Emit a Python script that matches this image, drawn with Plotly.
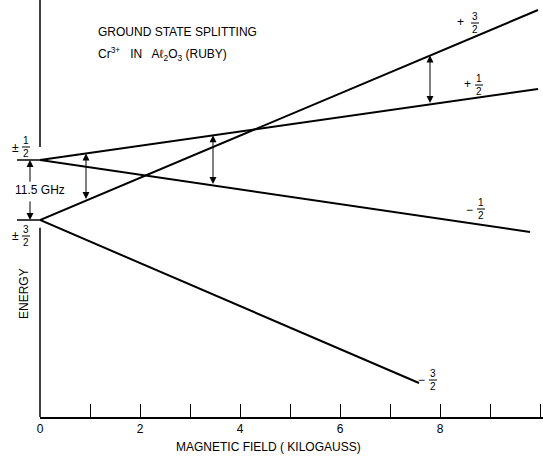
import plotly.graph_objects as go

# Zeeman levels of the Cr3+ ground state (energies in GHz, field in kilogauss)
level_names = ["+3/2", "+1/2", "-1/2", "-3/2"]
field_start = [0.0, 0.0, 0.0, 0.0]
field_end = [9.96, 9.96, 9.80, 7.58]
energy_start = [-5.75, 5.75, 5.75, -5.75]
energy_end = [34.5, 19.35, -8.05, -37.0]

# transitions marked with double-headed arrows: field, upper level, lower level
arrow_fields = [0.92, 3.46, 7.80]
arrow_upper = ["+1/2", "+1/2", "+3/2"]
arrow_lower = ["+3/2", "-1/2", "+1/2"]

zero_field_splitting = 11.5  # GHz
x_ticks = [0, 2, 4, 6, 8]

FONT = "Liberation Sans"
INK = "black"

W, H = 543, 459
ML, MB = 40, 42
PW, PH = W - ML, H - MB

X_RANGE = [0, PW / 50.0]
GHZ_PX = 60.0 / zero_field_splitting
Y_TOP = 5.75 + 160 / GHZ_PX
Y_BOT = 5.75 - (PH - 160) / GHZ_PX


def level_energy(name, b):
    i = level_names.index(name)
    t = (b - field_start[i]) / (field_end[i] - field_start[i])
    return energy_start[i] + t * (energy_end[i] - energy_start[i])


def paper(xp, yp):
    return (xp - ML) / PW, (PH - yp) / PH


def text_at(xp, yp, text, size=12, xanchor="center", **kw):
    x, y = paper(xp, yp)
    return dict(x=x, y=y, xref="paper", yref="paper", text=text,
                showarrow=False, xanchor=xanchor, yanchor="middle",
                font=dict(family=FONT, size=size, color=INK), **kw)


fig = go.Figure()

for i, name in enumerate(level_names):
    fig.add_trace(go.Scatter(
        x=[field_start[i], field_end[i]],
        y=[energy_start[i], energy_end[i]],
        mode="lines", line=dict(color=INK, width=2),
        name=name, showlegend=False, hoverinfo="skip",
    ))

annotations = []
shapes = []

# transition arrows between levels
for b, up, lo in zip(arrow_fields, arrow_upper, arrow_lower):
    annotations.append(dict(
        x=b, y=level_energy(up, b), xref="x", yref="y",
        ax=b, ay=level_energy(lo, b), axref="x", ayref="y",
        text="", showarrow=True, arrowside="end+start",
        arrowhead=2, startarrowhead=2, arrowsize=1.4, startarrowsize=1.4,
        arrowwidth=1, arrowcolor=INK, standoff=0, startstandoff=0,
    ))

e_half = energy_start[level_names.index("+1/2")]
e_three = energy_start[level_names.index("+3/2")]

# vertical axis, interrupted where the zero-field labels sit
shapes.append(dict(type="line", xref="paper", yref="y", x0=0, x1=0,
                   y0=Y_TOP, y1=e_half + 2.5, line=dict(color=INK, width=1.5)))
shapes.append(dict(type="line", xref="paper", yref="y", x0=0, x1=0,
                   y0=e_three - 1.5, y1=Y_BOT, line=dict(color=INK, width=1.5)))

# short stubs marking the zero-field levels
for e in (e_half, e_three):
    shapes.append(dict(type="line", xref="paper", yref="y",
                       x0=-23 / PW, x1=3 / PW, y0=e, y1=e,
                       line=dict(color=INK, width=1.5)))

# 11.5 GHz splitting arrow, split around its label
ax_gap = -10 / PW
mid = (e_half + e_three) / 2
annotations.append(dict(x=ax_gap, y=e_half, xref="paper", yref="y",
                        ax=0, ay=mid + 1.3, axref="pixel", ayref="y",
                        text="", showarrow=True, arrowhead=2, arrowsize=1.4,
                        arrowwidth=1, arrowcolor=INK, standoff=0))
annotations.append(dict(x=ax_gap, y=e_three, xref="paper", yref="y",
                        ax=0, ay=mid - 1.9, axref="pixel", ayref="y",
                        text="", showarrow=True, arrowhead=2, arrowsize=1.4,
                        arrowwidth=1, arrowcolor=INK, standoff=0))
annotations.append(text_at(40, 190, f"{zero_field_splitting} GHz",
                           bgcolor="white", borderpad=0))


def fraction_label(sign, num, den, sx, sy, fx, fy):
    annotations.append(text_at(sx, sy, sign, size=12))
    annotations.append(text_at(fx, fy, f"{num}<br>{den}", size=10))
    x, y = paper(fx, fy)
    shapes.append(dict(type="line", xref="paper", yref="paper",
                       x0=x - 4 / PW, x1=x + 4 / PW, y0=y, y1=y,
                       line=dict(color=INK, width=1)))


fraction_label("+", 3, 2, 460, 22, 475, 23)
fraction_label("+", 1, 2, 467, 84, 479, 85)
fraction_label("\u2212", 1, 2, 469, 210, 481, 209)
fraction_label("\u2212", 3, 2, 421, 380, 433, 380)
fraction_label("\u00b1", 1, 2, 15, 148, 26, 147)
fraction_label("\u00b1", 3, 2, 15, 236, 26, 236)

# heading
annotations.append(text_at(96, 32, "GROUND STATE SPLITTING", xanchor="left"))
annotations.append(text_at(
    96, 54,
    "Cr<sup>3+</sup>   IN   A\u2113<sub>2</sub>O<sub>3</sub> (RUBY)",
    xanchor="left"))

# axis titles
annotations.append(text_at(268, 447, "MAGNETIC FIELD ( KILOGAUSS)"))
annotations.append(text_at(24, 294, "ENERGY", textangle=-90))

fig.update_layout(
    width=W, height=H,
    margin=dict(l=ML, r=0, t=0, b=MB),
    plot_bgcolor="white", paper_bgcolor="white",
    showlegend=False,
    annotations=annotations, shapes=shapes,
    xaxis=dict(range=X_RANGE, showgrid=False, zeroline=False,
               showline=True, linecolor=INK, linewidth=1.5,
               tickvals=x_ticks, ticktext=[str(v) for v in x_ticks],
               ticks="inside", ticklen=13, tickwidth=1, tickcolor=INK,
               minor=dict(dtick=1, ticks="inside", ticklen=13, tickwidth=1,
                          tickcolor=INK, showgrid=False),
               tickfont=dict(family=FONT, size=12, color=INK),
               fixedrange=True),
    yaxis=dict(range=[Y_BOT, Y_TOP], showgrid=False, zeroline=False,
               showline=False, showticklabels=False, ticks="",
               fixedrange=True),
)

fig.write_html("out.html")
